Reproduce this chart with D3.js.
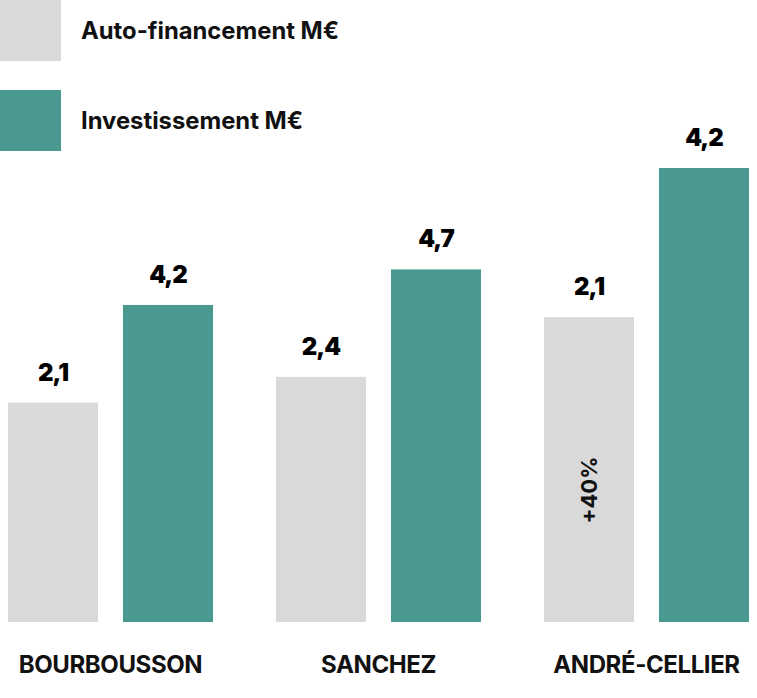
<!DOCTYPE html>
<html>
<head>
<meta charset="utf-8">
<script src="https://cdn.jsdelivr.net/npm/d3@7"></script>
<style>
  body { margin: 0; background: #fff; }
</style>
</head>
<body>
<div id="container"></div>
<script>
/* DATA */
const categories = ["BOURBOUSSON", "SANCHEZ", "ANDRÉ-CELLIER"]
const seriesNames = ["Auto-financement M€", "Investissement M€"]
const seriesColors = ["#d9d9d9", "#4a9990"]
// values printed above the bars
const autoLabels = ["2,1", "2,4", "2,1"]
const investLabels = ["4,2", "4,7", "4,2"]
// bar heights as drawn in the picture (chart's own scale)
const autoValues = [2.9, 3.24, 4.03]
const investValues = [4.19, 4.66, 6.0]
const note = { category: "ANDRÉ-CELLIER", series: 0, text: "+40%" }

const width = 757,
  height = 698,
  margin = { top: 168, bottom: 76, left: 8, right: 8 };

const data = categories.map((c, i) => ({
  category: c,
  bars: [
    { series: 0, value: autoValues[i], label: autoLabels[i] },
    { series: 1, value: investValues[i], label: investLabels[i] }
  ]
}))

/* SCALES */
const xScale = d3.scaleBand()
  .domain(categories)
  .range([margin.left, width - margin.right])
  .paddingInner(0.235)
  .paddingOuter(0)

const xInner = d3.scaleBand()
  .domain([0, 1])
  .range([0, xScale.bandwidth()])
  .paddingInner(0.217)

const yScale = d3.scaleLinear()
  .domain([0, 6])
  .range([height - margin.bottom, margin.top])

/* SVG */
const svg = d3.select("#container")
  .append("svg")
  .attr("width", width)
  .attr("height", height)

// legend
const legend = svg.selectAll(".legendItem")
  .data(seriesNames)
  .join("g")
  .attr("class", "legendItem")
  .attr("transform", (_, i) => `translate(0,${i * 90})`)

legend.append("rect")
  .attr("width", 61)
  .attr("height", 61)
  .attr("fill", (_, i) => seriesColors[i])

legend.append("text")
  .attr("x", 81)
  .attr("y", 39)
  .text(d => d)
  .style("font-family", "Inter, sans-serif")
  .style("font-weight", 700)
  .style("font-size", "23.8px")
  .attr("fill", "#111")

// groups
const groups = svg.selectAll(".group")
  .data(data)
  .join("g")
  .attr("class", "group")
  .attr("transform", d => `translate(${xScale(d.category)},0)`)

groups.selectAll("rect")
  .data(d => d.bars)
  .join("rect")
  .attr("x", d => xInner(d.series))
  .attr("width", xInner.bandwidth())
  .attr("y", d => yScale(d.value))
  .attr("height", d => yScale(0) - yScale(d.value))
  .attr("fill", d => seriesColors[d.series])

groups.selectAll(".valueLabel")
  .data(d => d.bars)
  .join("text")
  .attr("class", "valueLabel")
  .attr("x", d => xInner(d.series) + xInner.bandwidth() / 2)
  .attr("y", d => yScale(d.value) - 22)
  .attr("text-anchor", "middle")
  .text(d => d.label)
  .style("font-family", "Inter, sans-serif")
  .style("font-weight", 900)
  .style("font-size", "24px")
  .style("letter-spacing", "-1px")
  .attr("fill", "#000")

// category labels
svg.selectAll(".catLabel")
  .data(categories)
  .join("text")
  .attr("class", "catLabel")
  .attr("x", d => xScale(d) + xScale.bandwidth() / 2)
  .attr("y", height - 25)
  .attr("text-anchor", "middle")
  .text(d => d)
  .style("font-family", "Inter, sans-serif")
  .style("font-weight", 700)
  .style("font-size", "24px")
  .style("letter-spacing", "-0.4px")
  .attr("fill", "#111")

// rotated note inside the bar
const noteX = xScale(note.category) + xInner(note.series) + xInner.bandwidth() / 2
svg.append("text")
  .attr("transform", `translate(${noteX + 8},${yScale(0) - 132}) rotate(-90)`)
  .attr("text-anchor", "middle")
  .text(note.text)
  .style("font-family", "Inter, sans-serif")
  .style("font-weight", 700)
  .style("font-size", "22px")
  .attr("fill", "#111")
</script>
</body>
</html>
